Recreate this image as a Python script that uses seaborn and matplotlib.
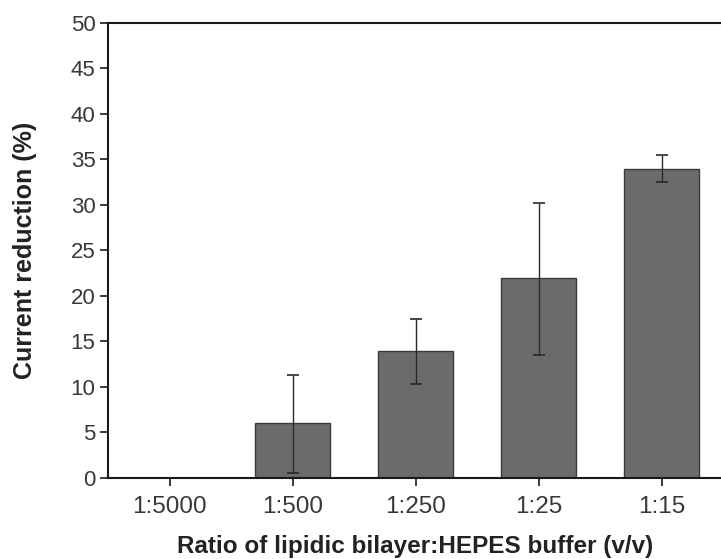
import matplotlib
matplotlib.use("Agg")
import matplotlib.pyplot as plt
import seaborn as sns
import pandas as pd
import numpy as np

categories = ["1:5000", "1:500", "1:250", "1:25", "1:15"]
values = [0.0, 6.0, 14.0, 22.0, 34.0]
err_low = [0.0, 5.4, 3.7, 8.5, 1.5]
err_high = [0.0, 5.3, 3.5, 8.2, 1.5]
yticks = [0, 5, 10, 15, 20, 25, 30, 35, 40, 45, 50]

sns.set_theme(style="white")
plt.rcParams["font.family"] = ["Liberation Sans", "DejaVu Sans"]

df = pd.DataFrame({"ratio": categories, "value": values})

fig = plt.figure(figsize=(7.21, 5.59), dpi=100)
ax = fig.add_axes([0.1498, 0.1449, 0.853, 0.814])

sns.barplot(data=df, x="ratio", y="value", order=categories, color="#6b6b6b",
            saturation=1, width=0.61, edgecolor="#3a3a3a", linewidth=1.0,
            errorbar=None, ax=ax)

centers = [p.get_x() + p.get_width() / 2 for p in ax.patches]
heights = [p.get_height() for p in ax.patches]
for c, h, lo, hi in zip(centers, heights, err_low, err_high):
    if lo == 0 and hi == 0:
        continue
    ax.errorbar([c], [h], yerr=[[lo], [hi]], fmt="none", ecolor="#2a2a2a",
                elinewidth=1.0, capsize=4, capthick=1.2)

ax.set_xlim(-0.5, 4.5)
ax.set_ylim(0, 50)
ax.set_yticks(yticks)
ax.set_yticklabels([str(t) for t in yticks])

for s in ["left", "bottom", "top"]:
    ax.spines[s].set_visible(True)
    ax.spines[s].set_color("#1a1a1a")
    ax.spines[s].set_linewidth(1.5)
ax.spines["right"].set_visible(False)

ax.tick_params(axis="both", which="major", direction="out", length=6, width=1.2,
               color="#1a1a1a", labelcolor="#383838")
ax.tick_params(axis="x", pad=7, labelsize=17.5)
ax.tick_params(axis="y", pad=3, labelsize=16)
ax.xaxis.set_ticks_position("bottom")
ax.yaxis.set_ticks_position("left")

ax.set_xlabel("Ratio of lipidic bilayer:HEPES buffer (v/v)", fontsize=17.5,
              fontweight="bold", color="#222222", labelpad=12)
ax.set_ylabel("Current reduction (%)", fontsize=18, fontweight="bold",
              color="#222222", labelpad=24)

fig.savefig("out.png", dpi=100)
